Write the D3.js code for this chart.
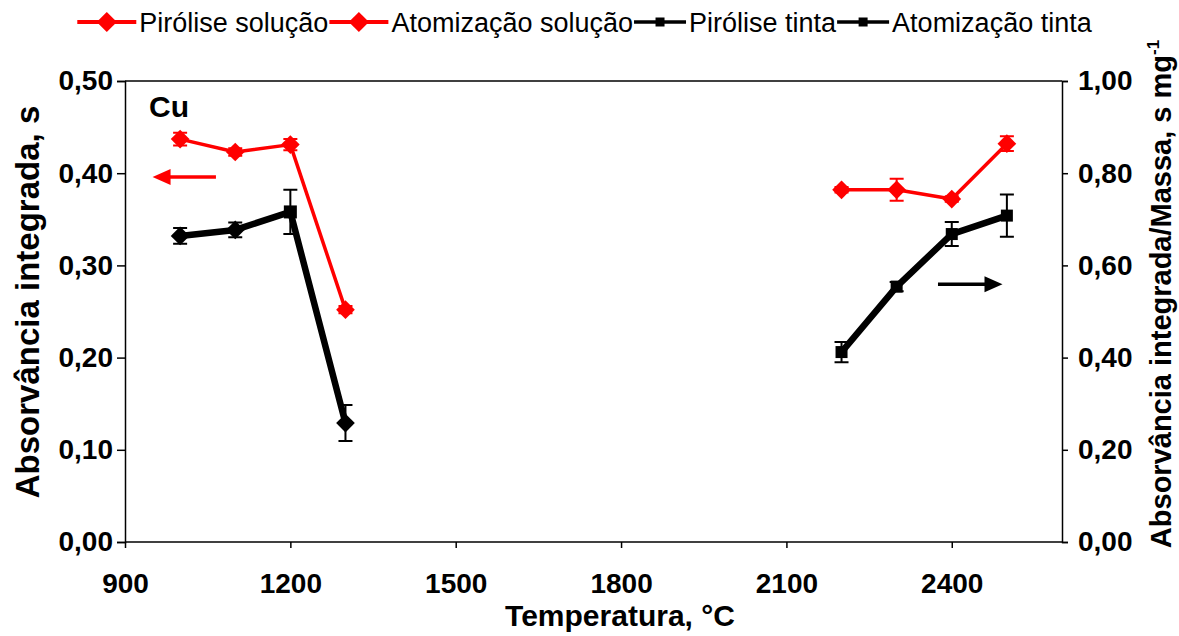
<!DOCTYPE html>
<html>
<head>
<meta charset="utf-8">
<script src="https://cdn.jsdelivr.net/npm/d3@7"></script>
<style>
  body { margin: 0; background: #fff; }
  svg { font-family: "Liberation Sans", Arial, sans-serif; }
</style>
</head>
<body>
<div id="chart"></div>
<script>
// data
var pirSolT = [1000, 1100, 1200, 1300];
var pirSolY = [0.437, 0.423, 0.431, 0.252];
var pirSolErr = [0.007, 0.004, 0.006, 0.004];

var atoSolT = [2200, 2300, 2400, 2500];
var atoSolY = [0.382, 0.382, 0.372, 0.432];
var atoSolErr = [0.003, 0.012, 0.003, 0.008];

// tinta series use the right axis (per mass)
var pirTinT = [1000, 1100, 1200, 1300];
var pirTinY = [0.664, 0.677, 0.716, 0.258];
var pirTinErr = [0.017, 0.016, 0.048, 0.039];
var pirTinShape = ["diamond", "diamond", "square", "diamond"];

var atoTinT = [2200, 2300, 2400, 2500];
var atoTinY = [0.412, 0.554, 0.668, 0.708];
var atoTinErr = [0.022, 0.01, 0.026, 0.046];

var xTicks = [900, 1200, 1500, 1800, 2100, 2400];
var yLeftTicks = [0, 0.1, 0.2, 0.3, 0.4, 0.5];
var yRightTicks = [0, 0.2, 0.4, 0.6, 0.8, 1.0];

var legendNames = ["Pirólise solução", "Atomização solução", "Pirólise tinta", "Atomização tinta"];

var W = 1179, H = 636;
var m = {left: 125, right: 117, top: 81, bottom: 94};

var svg = d3.select("#chart").append("svg")
  .attr("width", W).attr("height", H);

var x = d3.scaleLinear().domain([900, 2600]).range([m.left, W - m.right]);
var yL = d3.scaleLinear().domain([0, 0.5]).range([H - m.bottom, m.top]);
var yR = d3.scaleLinear().domain([0, 1.0]).range([H - m.bottom, m.top]);

var fmt = function(d) { return d3.format(".2f")(d).replace(".", ","); };

// top border
svg.append("line")
  .attr("x1", m.left).attr("x2", W - m.right)
  .attr("y1", m.top).attr("y2", m.top)
  .attr("stroke", "#000").attr("stroke-width", 1.5);

var gx = svg.append("g")
  .attr("transform", "translate(0," + (H - m.bottom) + ")")
  .call(d3.axisBottom(x).tickValues(xTicks).tickSize(6).tickFormat(d3.format("d")));
var gl = svg.append("g")
  .attr("transform", "translate(" + m.left + ",0)")
  .call(d3.axisLeft(yL).tickValues(yLeftTicks).tickSize(8).tickFormat(fmt));
var gr = svg.append("g")
  .attr("transform", "translate(" + (W - m.right) + ",0)")
  .call(d3.axisRight(yR).tickValues(yRightTicks).tickSize(6).tickFormat(fmt));

[gx, gl, gr].forEach(function(g) {
  g.select(".domain").attr("stroke", "#000").attr("stroke-width", 1.5);
  g.selectAll(".tick line").attr("stroke", "#000").attr("stroke-width", 1.5);
  g.selectAll(".tick text")
    .attr("fill", "#000")
    .style("font-size", "28px")
    .style("font-weight", "bold");
});
gx.select(".domain").attr("d", "M" + m.left + ",0H" + (W - m.right));
gx.selectAll(".tick text").attr("y", 51).attr("dy", 0);
gl.selectAll(".tick text").attr("x", -12);
gr.selectAll(".tick text").attr("x", 16);

// axis titles
svg.append("text")
  .attr("x", 620).attr("y", 626)
  .attr("text-anchor", "middle")
  .style("font-size", "30px").style("font-weight", "bold")
  .text("Temperatura, °C");

svg.append("text")
  .attr("transform", "translate(39,302) rotate(-90)")
  .attr("text-anchor", "middle")
  .style("font-size", "33px").style("font-weight", "bold")
  .text("Absorvância integrada, s");

var rt = svg.append("text")
  .attr("transform", "translate(1171,294) rotate(-90)")
  .attr("text-anchor", "middle")
  .style("font-size", "29px").style("font-weight", "bold");
rt.append("tspan").text("Absorvância integrada/Massa,  s mg");
rt.append("tspan").attr("dy", -12).style("font-size", "17px").text("-1");

svg.append("text")
  .attr("x", 149).attr("y", 117)
  .style("font-size", "30px").style("font-weight", "bold")
  .text("Cu");

function marker(g, shape, cx, cy, s, color) {
  if (shape === "square") {
    g.append("rect")
      .attr("x", cx - s / 2).attr("y", cy - s / 2)
      .attr("width", s).attr("height", s).attr("fill", color);
  } else {
    var r = s * 0.72;
    g.append("path")
      .attr("d", "M" + cx + "," + (cy - r) + "L" + (cx + r) + "," + cy +
        "L" + cx + "," + (cy + r) + "L" + (cx - r) + "," + cy + "Z")
      .attr("fill", color);
  }
}

function series(ts, ys, errs, yScale, color, lw, shapes, size) {
  var pts = ts.map(function(t, i) { return [x(t), yScale(ys[i])]; });
  var g = svg.append("g");
  g.append("path")
    .attr("d", d3.line()(pts))
    .attr("fill", "none").attr("stroke", color)
    .attr("stroke-width", lw).attr("stroke-linejoin", "round");
  ts.forEach(function(t, i) {
    var cx = x(t), y1 = yScale(ys[i] + errs[i]), y2 = yScale(ys[i] - errs[i]);
    g.append("path")
      .attr("d", "M" + cx + "," + y1 + "V" + y2 +
        "M" + (cx - 7) + "," + y1 + "H" + (cx + 7) +
        "M" + (cx - 7) + "," + y2 + "H" + (cx + 7))
      .attr("stroke", color).attr("stroke-width", 2).attr("fill", "none");
    marker(g, shapes[i], cx, yScale(ys[i]), size, color);
  });
}

series(pirTinT, pirTinY, pirTinErr, yR, "#000", 6.5, pirTinShape, 13);
series(atoTinT, atoTinY, atoTinErr, yR, "#000", 6.5, ["square", "square", "square", "square"], 12);
series(pirSolT, pirSolY, pirSolErr, yL, "#ff0000", 3.5, ["diamond", "diamond", "diamond", "diamond"], 13);
series(atoSolT, atoSolY, atoSolErr, yL, "#ff0000", 3.5, ["diamond", "diamond", "diamond", "diamond"], 13);

// axis arrows
function arrow(t1, t2, v, yScale, color) {
  var x1 = x(t1), x2 = x(t2), yy = yScale(v);
  var dir = x2 > x1 ? 1 : -1;
  svg.append("line")
    .attr("x1", x1).attr("x2", x2 - dir * 14).attr("y1", yy).attr("y2", yy)
    .attr("stroke", color).attr("stroke-width", 3.5);
  svg.append("path")
    .attr("d", "M" + x2 + "," + yy + "L" + (x2 - dir * 18) + "," + (yy - 8) +
      "L" + (x2 - dir * 18) + "," + (yy + 8) + "Z")
    .attr("fill", color);
}
arrow(1065, 950, 0.396, yL, "#ff0000");
arrow(2375, 2492, 0.559, yR, "#000");

// legend
var legColors = ["#ff0000", "#ff0000", "#000", "#000"];
var legShapes = ["diamond", "diamond", "square", "square"];
var lg = svg.append("g");
var lx = 0;
legendNames.forEach(function(name, i) {
  var len = i < 2 ? 59 : 52;
  lg.append("line")
    .attr("x1", lx).attr("x2", lx + len).attr("y1", 22).attr("y2", 22)
    .attr("stroke", legColors[i]).attr("stroke-width", i < 2 ? 4 : 3.5);
  marker(lg, legShapes[i], lx + len / 2, 22, i < 2 ? 14 : 9, legColors[i]);
  var t = lg.append("text")
    .attr("x", lx + len + 3).attr("y", 32)
    .style("font-size", "27px")
    .text(name);
  lx += len + 3 + t.node().getComputedTextLength() + 1;
});
lg.attr("transform", "translate(" + (585 - lx / 2) + ",0)");
</script>
</body>
</html>
